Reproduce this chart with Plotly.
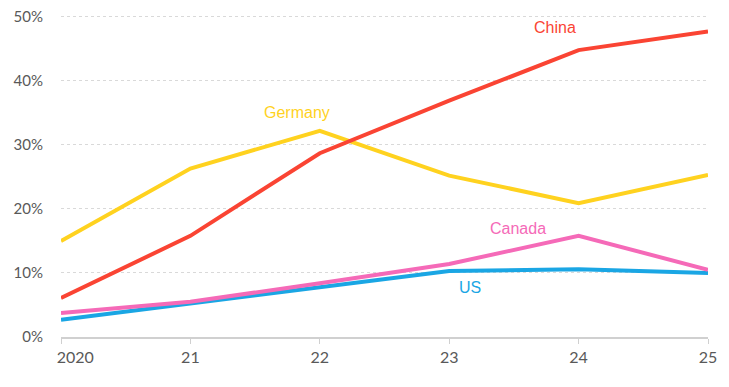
import plotly.graph_objects as go

years = [2020, 2021, 2022, 2023, 2024, 2025]
tick_labels = ["\u00a0\u00a0\u00a0\u00a0\u00a0\u00a0\u00a02020", "21", "22", "23", "24", "25"]
y_ticks = [0, 10, 20, 30, 40, 50]
y_tick_labels = ["0%", "10%", "20%", "30%", "40%", "50%"]

china = [6.1, 15.8, 28.7, 36.9, 44.8, 47.7]
germany = [15.0, 26.3, 32.2, 25.2, 20.9, 25.3]
canada = [3.75, 5.5, 8.4, 11.4, 15.8, 10.5]
us = [2.7, 5.2, 7.8, 10.3, 10.6, 10.0]

series = [
    ("Germany", germany, "#FFD21F", 2021.82, 35.0),
    ("US", us, "#1AA6E4", 2023.16, 7.7),
    ("Canada", canada, "#F56AB8", 2023.53, 17.0),
    ("China", china, "#FA4433", 2023.82, 48.3),
]

fig = go.Figure()
for name, vals, color, lx, ly in series:
    fig.add_trace(go.Scatter(x=years, y=vals, mode="lines", name=name,
                             line=dict(color=color, width=4), showlegend=False))
    fig.add_annotation(x=lx, y=ly, text=name, showarrow=False,
                       font=dict(family="Liberation Sans, Arial", size=16, color=color))

fig.update_layout(
    width=721, height=379,
    margin=dict(l=53, r=21, t=5, b=50, autoexpand=False),
    plot_bgcolor="white", paper_bgcolor="white",
    font=dict(family="Lato, Open Sans", size=16, color="#595959"),
)
fig.update_xaxes(
    range=[2020, 2025], tickvals=years, ticktext=tick_labels,
    showgrid=False, showline=True, linecolor="#D0D0D0", linewidth=1.5,
    ticks="outside", ticklen=5, tickcolor="#D0D0D0", zeroline=False,
    tickfont=dict(size=16, color="#595959"), automargin=False,
)
fig.update_yaxes(
    range=[0, 50.6], tickvals=y_ticks, ticktext=y_tick_labels,
    showgrid=True, gridcolor="#D9D9D9", griddash="dot", gridwidth=1,
    zeroline=False, showline=False, ticklabelstandoff=17,
    ticklabeloverflow="allow",
    tickfont=dict(size=15, color="#595959"), automargin=False,
)

fig.write_html("out.html")
